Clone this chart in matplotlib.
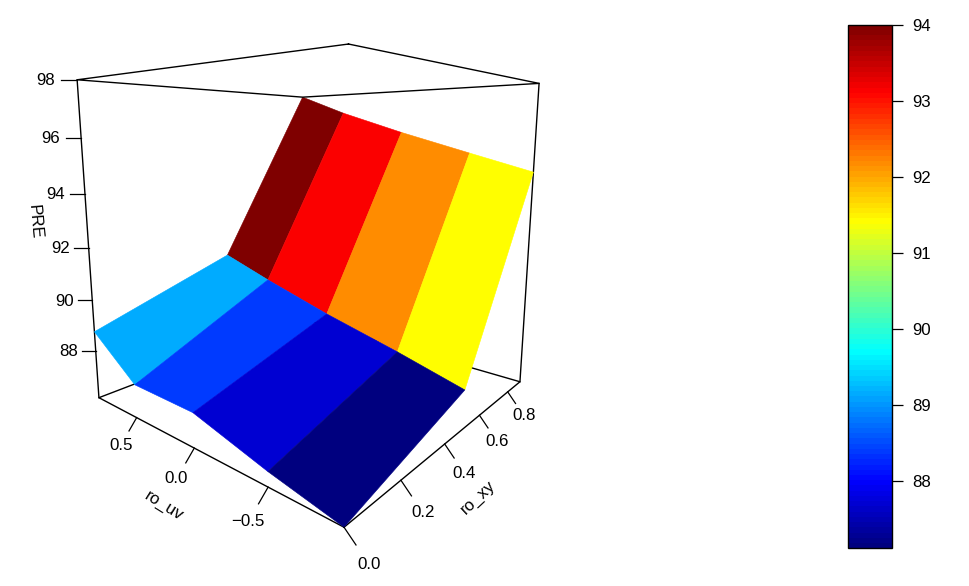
import numpy as np
import matplotlib
matplotlib.use('Agg')
import matplotlib.pyplot as plt
from matplotlib.cm import ScalarMappable
from matplotlib.colors import LinearSegmentedColormap, Normalize
from mpl_toolkits.mplot3d import proj3d

plt.rcParams['font.family'] = ['Liberation Sans', 'DejaVu Sans']
plt.rcParams['font.size'] = 12.2

# values
ro_xy = [0.0, 0.5, 0.9]
ro_uv = [-0.9, -0.5, 0.0, 0.5, 0.9]
pre_xy_low = [86.6, 86.96, 87.55, 87.45, 88.76]
pre_xy_mid = [87.72, 88.35, 89.06, 89.88, 90.6]
pre_xy_high = [94.68, 95.35, 96.2, 97.13, 98.0]

# facet colour values, read against the colour key
col_lower = [87.11, 87.73, 88.4, 89.12]
col_upper = [91.42, 92.19, 93.14, 94.0]

xy_ticks = [0.0, 0.2, 0.4, 0.6, 0.8]
uv_ticks = [-0.5, 0.0, 0.5]
uv_labels = ['\u22120.5', '0.0', '0.5']
z_ticks = [88, 90, 92, 94, 96, 98]
bar_ticks = [88, 89, 90, 91, 92, 93, 94]

x_lim = (0.0, 0.9)
y_lim = (-0.9, 0.9)
z_view = (86.36, 99.18)
bar_lim = (87.114, 94.0)
# box floor does not sit quite flat in this camera, near corner vs the others
z_floor_near = 86.6
z_floor_side = 86.1
z_top = 98.0

W, H = 969, 586
fig = plt.figure(figsize=(W / 100, H / 100), dpi=100)

# camera: pixel focal 547, look point at (316, 224)
S = 674.6
ax = fig.add_axes([(316 - 0.5135 * S) / W, (H - 224 - 0.5135 * S) / H, S / W, S / H],
                  projection='3d', computed_zorder=False)
ax.set_proj_type('persp', focal_length=0.15)
ax.view_init(elev=9.3, azim=220.3)
ax.set_xlim(*x_lim, view_margin=0)
ax.set_ylim(*y_lim, view_margin=0)
ax.set_zlim(*z_view, view_margin=0)
ax.set_box_aspect((1, 1, 1.08), zoom=0.804)
ax.set_axis_off()
ax.patch.set_alpha(0)

jet = LinearSegmentedColormap.from_list(
    'jetcol', ['#00007F', 'blue', '#007FFF', 'cyan', '#7FFF7F', 'yellow', '#FF7F00', 'red', '#7F0000'], N=100)
norm = Normalize(*bar_lim)

X, Y = np.meshgrid(ro_xy, ro_uv)
Z = np.array([pre_xy_low, pre_xy_mid, pre_xy_high]).T
facet = np.array([col_lower, col_upper]).T

# box, the lower part goes behind the surface
x0, x1 = x_lim
y0, y1 = y_lim
zn, zs = z_floor_near, z_floor_side
line = dict(color='black', lw=1.0)
ax.plot([x0, x1, x1, x0, x0], [y0, y0, y1, y1, y0], [zn, zs, zs, zs, zn], zorder=1, **line)
ax.plot([x1, x1], [y0, y0], [zs, z_top], zorder=1, **line)
ax.plot([x0, x0], [y1, y1], [zs, z_top], zorder=1, **line)
ax.plot_surface(X, Y, Z, facecolors=jet(norm(facet)), rstride=1, cstride=1,
                shade=False, linewidth=0.4, zorder=2)
ax.plot([x0, x1, x1, x0, x0], [y0, y0, y1, y1, y0], [z_top] * 5, zorder=3, **line)

# ticks and labels are placed in pixels on top
over = fig.add_axes([0, 0, 1, 1])
over.set_xlim(0, W)
over.set_ylim(H, 0)
over.axis('off')
M = ax.get_proj()


def to_px(x, y, z):
    u, v, _ = proj3d.proj_transform(x, y, z, M)
    px = ax.transData.transform((u, v))
    return np.array([px[0], H - px[1]])


def axis_ticks(points, labels, n):
    # tick length grows where the box is nearer
    n = np.array(n)
    for p, lab in zip(points, labels):
        s = to_px(*p)
        l = np.linalg.norm(to_px(p[0], p[1], p[2] + 0.58) - s)
        e = s + n * l
        t = s + n * l * 2.08
        over.plot([s[0], e[0]], [s[1], e[1]], color='black', lw=0.9)
        over.text(t[0], t[1], lab, ha='center', va='center')


def floor_z(frac):
    return zn + (zs - zn) * frac


axis_ticks([(v, y0, floor_z((v - x0) / (x1 - x0))) for v in xy_ticks],
           ['%.1f' % v for v in xy_ticks], (0.56, 0.83))
axis_ticks([(x0, v, floor_z((v - y0) / (y1 - y0))) for v in uv_ticks],
           uv_labels, (-0.5, 0.87))

for v in z_ticks:
    s = to_px(x0, y1, v)
    l = np.linalg.norm(to_px(x0, y1, v + 0.53) - s)
    over.plot([s[0] - l, s[0]], [s[1], s[1]], color='black', lw=0.9)
    over.text(s[0] - 2.0 * l, s[1] + 1, str(v), ha='center', va='center')

over.text(164, 506, 'ro_uv', rotation=-32, ha='center', va='center')
over.text(478, 497, 'ro_xy', rotation=43, ha='center', va='center')
over.text(35, 222, 'PRE', rotation=-85, ha='center', va='center')

# colour key
cax = fig.add_axes([847.5 / W, (H - 548.3) / H, 44 / W, 523.6 / H])
cb = fig.colorbar(ScalarMappable(norm=norm, cmap=jet), cax=cax, ticks=bar_ticks)
cb.outline.set_linewidth(1.0)
cb.ax.tick_params(length=7.7, width=0.9, pad=7, labelsize=12.2)

fig.savefig('out.png', dpi=100)
